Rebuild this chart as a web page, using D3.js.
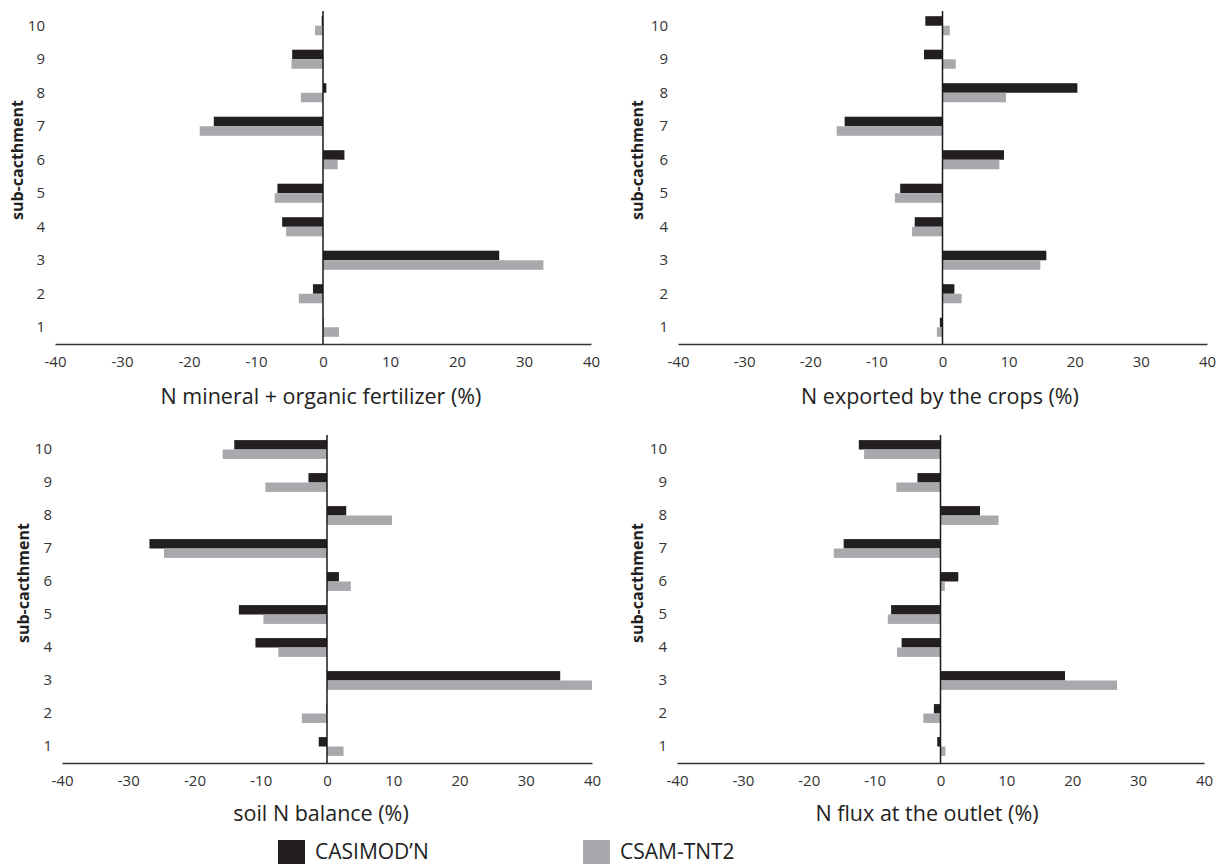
<!DOCTYPE html>
<html>
<head>
<meta charset="utf-8">
<script src="https://cdn.jsdelivr.net/npm/d3@7"></script>
<style>
  body { margin: 0; background: #fff; }
  text { font-family: "Open Sans", "Liberation Sans", sans-serif; }
</style>
</head>
<body>
<div id="chart"></div>
<script>
// ---- Data ------------------------------------------------------------------
const categories = ["1", "2", "3", "4", "5", "6", "7", "8", "9", "10"];
const series = ["CASIMOD'N", "CSAM-TNT2"];
const xTicks = [-40, -30, -20, -10, 0, 10, 20, 30, 40];

const fertCasimod = [0.1, -1.5, 26.3, -6.1, -6.8, 3.2, -16.3, 0.5, -4.6, -0.2];
const fertCsam    = [2.4, -3.6, 32.9, -5.5, -7.2, 2.2, -18.4, -3.3, -4.7, -1.2];

const cropsCasimod = [-0.4, 1.8, 15.7, -4.2, -6.4, 9.3, -14.8, 20.4, -2.8, -2.6];
const cropsCsam    = [-0.85, 2.9, 14.8, -4.6, -7.2, 8.6, -16.0, 9.6, 2.0, 1.1];

const soilCasimod = [-1.25, -0.1, 35.2, -10.8, -13.3, 1.8, -26.8, 2.9, -2.8, -14.0];
const soilCsam    = [2.5, -3.8, 40.0, -7.35, -9.6, 3.6, -24.6, 9.8, -9.3, -15.75];

const fluxCasimod = [-0.5, -1.0, 18.9, -5.9, -7.5, 2.7, -14.7, 6.0, -3.5, -12.4];
const fluxCsam    = [0.75, -2.6, 26.8, -6.6, -8.0, 0.65, -16.2, 8.8, -6.7, -11.6];

const titles = [
  "N mineral + organic fertilizer (%)",
  "N exported by the crops (%)",
  "soil N balance (%)",
  "N flux at the outlet (%)"
];

// ---- Set up ----------------------------------------------------------------
const width = 1222, height = 864;
const colors = { "CASIMOD'N": "#231f20", "CSAM-TNT2": "#a7a9ac" };

const svg = d3.select("#chart").append("svg")
    .attr("width", width)
    .attr("height", height);

// panel layout: x range, y range (bottom, top), title position
const panels = [
  { a: fertCasimod,  b: fertCsam,  title: titles[0], x0: 55,  x1: 591,  yb: 344, yt: 9,   tx: 321, ty: 404, lx: 17,  ly: 160 },
  { a: cropsCasimod, b: cropsCsam, title: titles[1], x0: 678, x1: 1207, yb: 344, yt: 9,   tx: 940, ty: 404, lx: 637, ly: 160 },
  { a: soilCasimod,  b: soilCsam,  title: titles[2], x0: 62,  x1: 592,  yb: 763, yt: 433, tx: 321, ty: 821, lx: 23,  ly: 583 },
  { a: fluxCasimod,  b: fluxCsam,  title: titles[3], x0: 677, x1: 1204, yb: 763, yt: 433, tx: 927, ty: 821, lx: 637, ly: 583 }
];

panels.forEach(drawPanel);

function drawPanel(p) {
  const g = svg.append("g");

  const x = d3.scaleLinear().domain([-40, 40]).range([p.x0, p.x1]);
  const y = d3.scaleBand().domain(categories).range([p.yb, p.yt]).paddingInner(0.43).paddingOuter(0.215);
  const ySub = d3.scaleBand().domain(series).range([0, y.bandwidth()]);

  const rows = categories.map((c, i) => ({ cat: c, values: [
    { s: series[0], v: p.a[i] },
    { s: series[1], v: p.b[i] }
  ]}));

  // bars
  g.selectAll(".row")
    .data(rows)
    .enter().append("g")
      .attr("transform", d => `translate(0,${y(d.cat)})`)
    .selectAll("rect")
    .data(d => d.values)
    .enter().append("rect")
      .attr("x", d => x(Math.min(0, d.v)))
      .attr("y", d => ySub(d.s))
      .attr("width", d => Math.abs(x(d.v) - x(0)))
      .attr("height", ySub.bandwidth())
      .attr("fill", d => colors[d.s]);

  // zero line
  g.append("line")
      .attr("x1", x(0)).attr("x2", x(0))
      .attr("y1", p.yt + 2).attr("y2", p.yb)
      .attr("stroke", "#1a1a1a")
      .attr("stroke-width", 1.5);

  // x axis (plain hyphen for negatives, as in the original)
  const xAxis = g.append("g")
      .attr("transform", `translate(0,${p.yb})`)
      .call(d3.axisBottom(x).tickValues(xTicks).tickFormat(d => String(d)).tickSize(0).tickPadding(12));
  xAxis.select(".domain").attr("stroke", "#333").attr("stroke-width", 1.5);
  xAxis.selectAll("text").attr("font-size", 15).attr("fill", "#333")
      .style("font-family", "'Open Sans', sans-serif");

  // y axis labels
  const yAxis = g.append("g")
      .attr("transform", `translate(${p.x0 - 4},0)`)
      .call(d3.axisLeft(y).tickSize(0).tickPadding(6));
  yAxis.select(".domain").remove();
  yAxis.selectAll("text").attr("font-size", 15).attr("fill", "#333")
      .style("font-family", "'Open Sans', sans-serif");

  // titles
  g.append("text")
      .attr("x", p.tx)
      .attr("y", p.ty)
      .attr("text-anchor", "middle")
      .attr("font-size", 21.5)
      .attr("fill", "#222")
      .text(p.title);

  g.append("text")
      .attr("transform", `translate(${p.lx},${p.ly}) rotate(-90)`)
      .attr("text-anchor", "middle")
      .attr("dominant-baseline", "central")
      .attr("font-size", 16)
      .attr("font-weight", "bold")
      .attr("fill", "#222")
      .text("sub-cacthment");
}

// ---- Legend ----------------------------------------------------------------
const legendX = [278, 583];
const legend = svg.append("g")
  .selectAll("g")
  .data(series)
  .enter().append("g")
    .attr("transform", (d, i) => `translate(${legendX[i]},840)`);
legend.append("rect")
    .attr("width", 27)
    .attr("height", 24)
    .attr("fill", d => colors[d]);
legend.append("text")
    .attr("x", 37)
    .attr("y", 19)
    .attr("font-size", 21)
    .attr("fill", "#222")
    .text(d => d.replace("'", "\u2019"));
</script>
</body>
</html>
